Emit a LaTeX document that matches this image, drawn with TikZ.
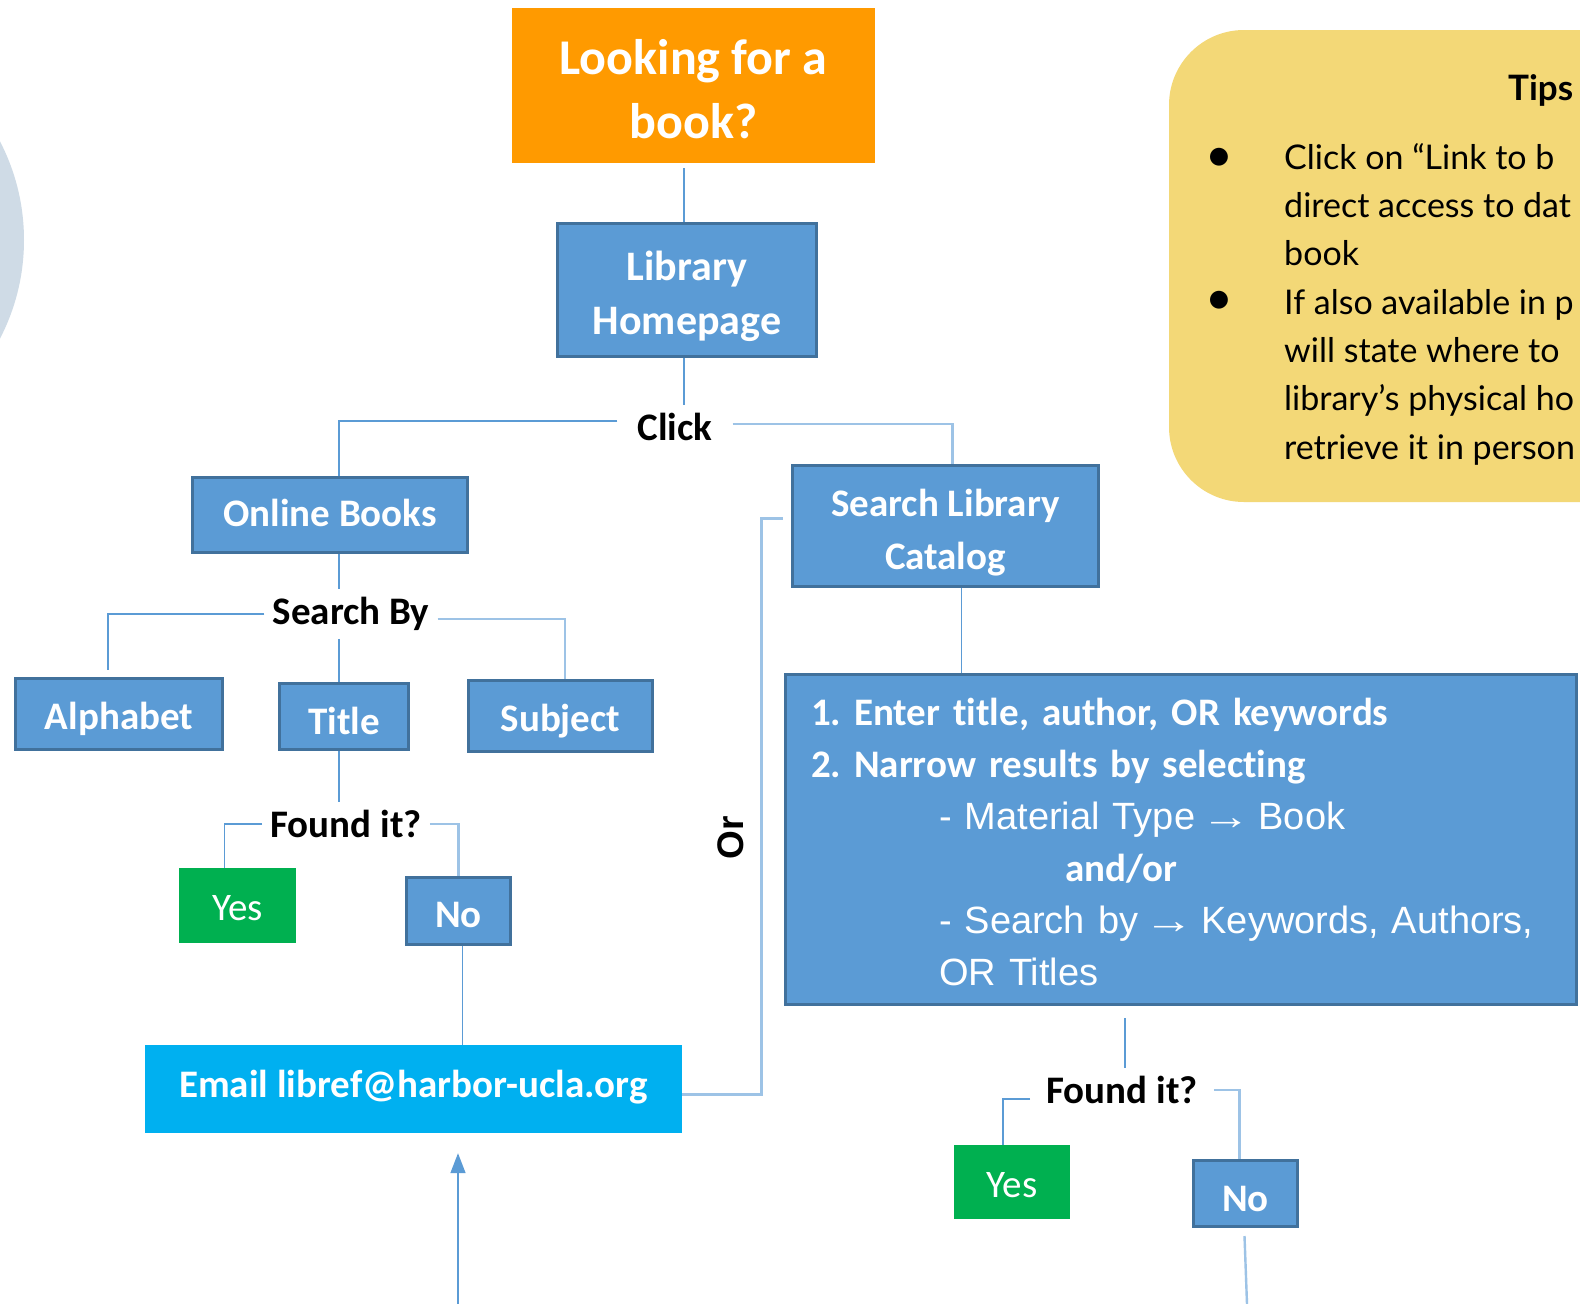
\documentclass[tikz,border=0pt]{standalone}
\usepackage{fontspec}
\setmainfont{Carlito}[Ligatures=NoCommon]
\newfontfamily\arialf{Liberation Sans}
\newfontfamily\tipsf{Lato}
\usetikzlibrary{arrows.meta}
\frenchspacing
\definecolor{boxblue}{HTML}{5B9BD5}
\definecolor{boxedge}{HTML}{41719C}
\definecolor{lineblue}{HTML}{5B9BD5}
\definecolor{lightline}{HTML}{9DC3E6}
\definecolor{orangef}{HTML}{FF9A00}
\definecolor{greenf}{HTML}{00B050}
\definecolor{cyanf}{HTML}{00B0F0}
\definecolor{tipsyellow}{HTML}{F3D877}
\definecolor{circlegray}{HTML}{CFDBE6}
\newcommand{\arrsep}{\kern-7pt\scalebox{1.3}[1]{→}\kern8pt}
\begin{document}
\begin{tikzpicture}[x=1pt,y=-1pt,
  bfont/.style={font=\fontsize{39}{47}\selectfont\bfseries},
  bluebox/.style={draw=boxedge, line width=3pt, fill=boxblue, text=white, bfont, inner sep=0pt, align=center},
  oneline/.style={text height=30pt, text depth=0pt},
  greenbox/.style={fill=greenf, text=white, font=\fontsize{39}{47}\selectfont, inner sep=0pt, text height=30pt, text depth=0pt},
  orangebox/.style={fill=orangef, text=white, font=\fontsize{50}{64}\selectfont\bfseries, inner sep=0pt, align=center},
  emailbox/.style={fill=cyanf, text=white, bfont, inner sep=0pt, text height=17pt, text depth=0pt},
  lbl/.style={bfont, text=black, inner xsep=8pt, inner ysep=8pt},
  conn/.style={draw=lineblue, line width=1.6pt},
  connlight/.style={draw=lightline, line width=2.4pt},
  orline/.style={draw=lightline, line width=3pt},
  tipsline/.style={font=\tipsf\fontsize{34}{48}\selectfont, text=black, anchor=base west, inner sep=0pt},
  tipsbullet/.style={font=\tipsf\fontsize{48}{48}\selectfont, text=black, anchor=base, inner sep=0pt},
  orlabel/.style={font=\arialf\fontsize{37}{40}\selectfont\bfseries, text=black, inner sep=0pt}
]
\useasboundingbox (0,0) rectangle (1580,1304);
\clip (0,0) rectangle (1580,1304);
\fill[white] (0,0) rectangle (1580,1304);

% decorative circle at left edge
\fill[circlegray] (-190,240) circle[radius=214pt];

% tips panel
\fill[tipsyellow, rounded corners=75pt] (1169,30) rectangle (1700,502);
\node[tipsline, font=\tipsf\fontsize{35}{48}\selectfont\bfseries] (tips) at (1508,100) {Tips};
\node[tipsbullet] (bul1) at (1219,171) {•};
\node[tipsbullet] (bul2) at (1219,314) {•};
\node[tipsline] (t1) at (1284,169) {Click on “Link to b};
\node[tipsline] (t2) at (1284,217) {direct access to dat};
\node[tipsline] (t3) at (1284,265) {book};
\node[tipsline] (t4) at (1284,314) {If also available in p};
\node[tipsline] (t5) at (1284,362) {will state where to};
\node[tipsline] (t6) at (1284,410) {library’s physical ho};
\node[tipsline] (t7) at (1284,459) {retrieve it in person};

% main boxes
\node[orangebox, minimum width=363pt, minimum height=155pt] (start) at (693.5,85.5) {\rule{0pt}{42pt}Looking for a\\book?};
\node[bluebox, font=\fontsize{42}{54}\selectfont\bfseries, minimum width=259pt, minimum height=133pt] (home) at (687,290) {\rule{0pt}{42pt}Library\\Homepage};
\node[lbl, inner xsep=20pt] (click) at (675,427) {Click};
\node[bluebox, oneline, text height=23pt, minimum width=275pt, minimum height=75pt] (ob) at (330,515) {Online Books};
\node[lbl] (sby) at (351,614) {Search By};
\node[bluebox, oneline, minimum width=207pt, minimum height=71pt] (alpha) at (119,714) {Alphabet};
\node[bluebox, oneline, text height=35pt, minimum width=129pt, minimum height=66pt] (title) at (344,716.5) {Title};
\node[bluebox, oneline, minimum width=184pt, minimum height=71pt] (subj) at (560.5,716) {Subject};
\node[lbl] (found1) at (346,824) {Found it?};
\node[greenbox, minimum width=117pt, minimum height=75pt] (yes1) at (237.5,905.5) {Yes};
\node[bluebox, oneline, text height=33pt, minimum width=104pt, minimum height=67pt] (no1) at (458.5,911) {No};
\node[emailbox, minimum width=537pt, minimum height=88pt] (email) at (413.5,1089) {Email libref@harbor-ucla.org};

\node[bluebox, font=\fontsize{39}{53}\selectfont\bfseries, minimum width=306pt, minimum height=121pt] (slc) at (945.5,526) {\rule{0pt}{41pt}Search Library\\Catalog};
\node[bluebox, font=\fontsize{39}{52}\selectfont\bfseries, align=left, text width=740pt, minimum width=791pt, minimum height=330pt] (big) at (1181,839.5) {%
\rule{0pt}{33pt}1. Enter title, author, OR keywords\\
2. Narrow results by selecting\\
\hspace*{128pt}\mbox{\arialf\mdseries\fontsize{38}{52}\selectfont - Material Type \arrsep Book}\\
\hspace*{254pt}and/or\\
\hspace*{128pt}\mbox{\arialf\mdseries\fontsize{38}{52}\selectfont - Search by \arrsep Keywords, Authors,}\\
\hspace*{128pt}\mbox{\arialf\mdseries\fontsize{38}{52}\selectfont OR Titles}};
\node[lbl, inner xsep=16pt] (found2) at (1122,1090) {Found it?};
\node[greenbox, minimum width=116pt, minimum height=74pt] (yes2) at (1012,1182) {Yes};
\node[bluebox, oneline, text height=36pt, minimum width=104pt, minimum height=66pt] (no2) at (1245.5,1193.5) {No};

\node[orlabel, rotate=90] (orlbl) at (731,838) {Or};

% connectors
\draw[conn] ([xshift=-9.5pt,yshift=-5pt]start.south) -- ([xshift=-3pt]home.north);
\draw[conn] ([xshift=-3pt]home.south) -- ([xshift=-3pt]home.south |- click.north);
\draw[conn] ([yshift=6pt]click.west) -| ([xshift=9pt]ob.north);
\draw[connlight] ([yshift=3pt]click.east) -| ([xshift=7pt]slc.north);
\draw[conn] ([xshift=9pt]ob.south) -- ([xshift=9pt]ob.south |- sby.north);
\draw[conn] (sby.west) -| ([xshift=-11pt,yshift=7pt]alpha.north);
\draw[connlight] ([yshift=-5pt]sby.east) -| ([xshift=4.5pt]subj.north);
\draw[conn] ([xshift=-5pt]title.north |- sby.south) -- ([xshift=-5pt]title.north);
\draw[conn] ([xshift=-5pt]title.south) -- ([xshift=-5pt]title.south |- found1.north);
\draw[conn] (found1.west) -| ([xshift=-13pt]yes1.north);
\draw[connlight] (found1.east) -| (no1.north);
\draw[conn] ([xshift=4pt]no1.south) -- ([xshift=4pt]no1.south |- email.north);
\coordinate (orturn) at (761,518);
\draw[orline] ([yshift=-5pt]email.east) -| (orturn) -- ([xshift=-8pt,yshift=8pt]slc.west);
\draw[conn] ([xshift=16pt]slc.south) -- ([xshift=16pt]slc.south |- big.north);
\draw[conn] ([xshift=-56pt,yshift=-12pt]big.south) -- ([xshift=-56pt]big.south |- found2.north);
\draw[conn] ([yshift=-9pt]found2.west) -| ([xshift=-9pt]yes2.north);
\draw[connlight] (found2.east) -| ([xshift=-6pt]no2.north);
\coordinate (no2end) at (1247,1304);
\draw[connlight] ([xshift=-1pt,yshift=-8pt]no2.south) -- (no2end);
\coordinate (arrowbase) at (458,1304);
\draw[conn, -{Triangle[length=20pt,width=15pt]}] (arrowbase) -- ([xshift=44.5pt,yshift=-20pt]email.south);
\end{tikzpicture}
\end{document}
